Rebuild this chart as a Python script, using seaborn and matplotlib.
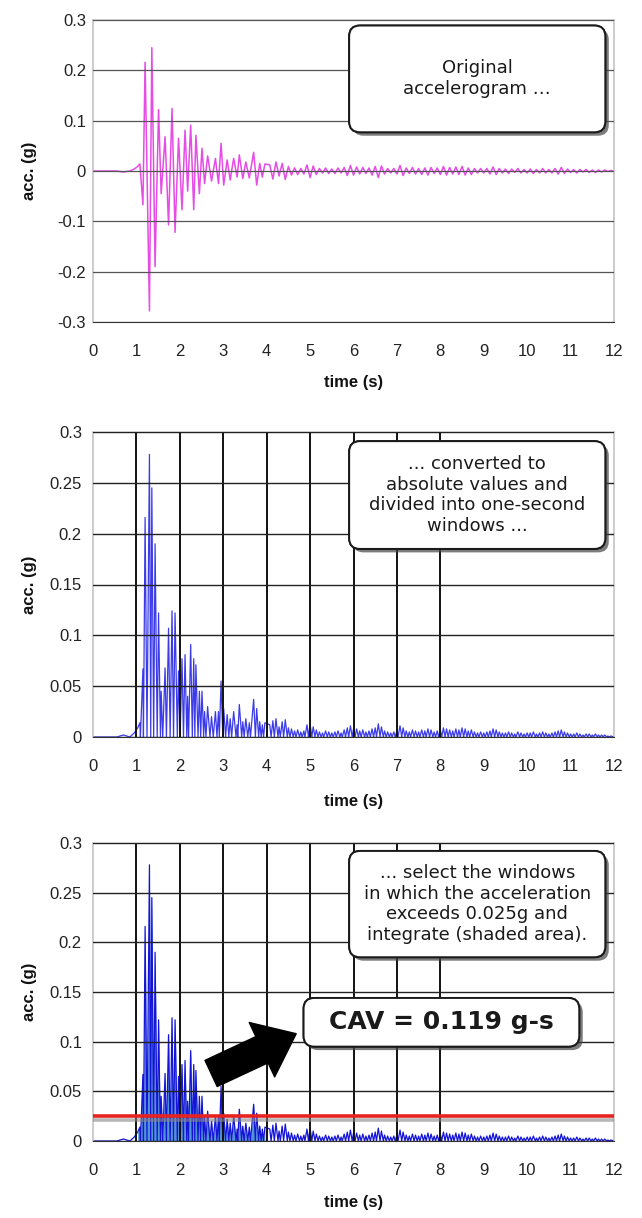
import numpy as np
import pandas as pd
import matplotlib
matplotlib.use("Agg")
import matplotlib.pyplot as plt
import matplotlib.patheffects as pe
from matplotlib.patches import FancyBboxPatch
import seaborn as sns

# accelerogram: half-cycle peaks (s, g)
pre_t = [0.0, 0.55, 0.70, 0.85, 0.95, 1.03]
pre_g = [0.0, 0.0, -0.002, 0.0, 0.004, 0.009]

strong_t = [1.08, 1.15, 1.20, 1.30, 1.355, 1.43, 1.51, 1.57, 1.66, 1.74,
            1.82, 1.89, 1.97, 2.05, 2.12, 2.18, 2.25, 2.32, 2.37, 2.45,
            2.51, 2.57, 2.64, 2.73, 2.82, 2.89, 2.95, 3.01, 3.09, 3.16,
            3.24, 3.32, 3.37, 3.45, 3.52, 3.60, 3.70, 3.77, 3.84, 3.90, 3.96]
strong_g = [0.014, -0.067, 0.216, -0.278, 0.245, -0.190, 0.122, -0.045, 0.068, -0.107,
            0.124, -0.122, 0.065, -0.077, 0.081, -0.040, 0.091, -0.077, 0.071, -0.045,
            0.045, -0.025, 0.030, -0.020, 0.025, -0.025, 0.055, -0.028, 0.022, -0.018,
            0.025, -0.012, 0.032, -0.015, 0.018, -0.014, 0.037, -0.028, 0.015, -0.012, 0.014]

# coda, 14 half-cycles per second from 4 s to 12 s
tail_g = [
    0.012, -0.016, 0.018, -0.010, 0.015, -0.017, 0.009, -0.008, 0.006, -0.007, 0.005, -0.006, 0.012, -0.013,
    0.010, -0.007, 0.005, -0.004, 0.006, -0.005, 0.004, -0.005, 0.006, -0.004, 0.007, -0.009, 0.011, -0.008,
    0.008, -0.006, 0.007, -0.005, 0.006, -0.008, 0.009, -0.013, 0.010, -0.006, 0.005, -0.004, 0.005, -0.006,
    0.011, -0.009, 0.006, -0.005, 0.007, -0.006, 0.005, -0.007, 0.006, -0.008, 0.007, -0.005, 0.006, -0.007,
    0.009, -0.008, 0.007, -0.006, 0.008, -0.007, 0.009, -0.008, 0.006, -0.007, 0.005, -0.004, 0.005, -0.004,
    0.005, -0.006, 0.008, -0.007, 0.005, -0.004, 0.004, -0.005, 0.004, -0.003, 0.005, -0.004, 0.003, -0.004,
    0.004, -0.005, 0.003, -0.004, 0.005, -0.004, 0.003, -0.004, 0.005, -0.006, 0.007, -0.005, 0.004, -0.003,
    0.003, -0.004, 0.003, -0.002, 0.003, -0.003, 0.002, -0.003, 0.002, -0.002, 0.002, -0.001, 0.001, 0.0,
]
tail_t = list(4.0 + np.arange(1, len(tail_g) + 1) / 14)

window_edges = [1, 2, 3, 4, 5, 6, 7, 8]
cav_windows = (1, 4)
threshold_g = 0.025
cav_value = 0.119

xticks = list(range(0, 13))
yticks_top = [-0.3, -0.2, -0.1, 0, 0.1, 0.2, 0.3]
ylabels_top = ["-0.3", "-0.2", "-0.1", "0", "0.1", "0.2", "0.3"]
yticks_abs = [0, 0.05, 0.1, 0.15, 0.2, 0.25, 0.3]
ylabels_abs = ["0", "0.05", "0.1", "0.15", "0.2", "0.25", "0.3"]

notes = ["Original\naccelerogram \u2026",
         "... converted to\nabsolute values and\ndivided into one-second\nwindows ...",
         "... select the windows\nin which the acceleration\nexceeds 0.025g and\nintegrate (shaded area)."]

t = np.array(pre_t + strong_t + tail_t)
g = np.array(pre_g + strong_g + tail_g)

# abs() of the drawn trace: keep the points where the line crosses zero
ts, gs = [t[0]], [g[0]]
for i in range(1, len(t)):
    if g[i - 1] * g[i] < 0:
        ts.append(t[i - 1] + (t[i] - t[i - 1]) * g[i - 1] / (g[i - 1] - g[i]))
        gs.append(0.0)
    ts.append(t[i])
    gs.append(g[i])
df = pd.DataFrame({"time": t, "acc": g})
df_abs = pd.DataFrame({"time": ts, "acc": np.abs(gs)})

sns.set_style("white")
plt.rcParams["font.family"] = ["Liberation Sans", "DejaVu Sans"]

W, H = 642, 1218
fig = plt.figure(figsize=(W / 100, H / 100), dpi=100)
L, R = 93, 614
panels = [(20, 322), (432, 737), (843, 1141)]
axes = [fig.add_axes([L / W, 1 - b / H, (R - L) / W, (b - tp) / H]) for tp, b in panels]


def style(ax, yt, yl, xlab_y, minor_y=None):
    ax.set_xlim(0, 12)
    ax.set_ylim(yt[0], yt[-1])
    ax.set_xticks(xticks)
    ax.set_xticks(np.arange(0, 12.01, 0.1), minor=True)
    ax.set_xticklabels([str(x) for x in xticks])
    ax.set_yticks(yt)
    ax.set_yticklabels(yl)
    if minor_y is not None:
        ax.set_yticks(minor_y, minor=True)
    ax.set_axisbelow(False)
    ax.tick_params(axis="x", which="major", direction="inout", length=7, width=1,
                   color="#333333", pad=12, labelsize=12, labelcolor="#222222")
    ax.tick_params(axis="x", which="minor", direction="in", length=3.5, width=0.8, color="#333333")
    ax.tick_params(axis="y", which="major", direction="out", length=3, width=0.8, color="#aaaaaa",
                   pad=5, labelsize=12, labelcolor="#222222")
    ax.tick_params(axis="y", which="minor", direction="out", length=3, width=0.8, color="#aaaaaa")
    for side in ("top", "right", "left"):
        ax.spines[side].set_color("#c4c4c4")
        ax.spines[side].set_linewidth(1.2)
    ax.spines["bottom"].set_color("#333333")
    ax.set_xlabel("time (s)", fontsize=12, fontweight="bold", color="#111111")
    ax.set_ylabel("acc. (g)", fontsize=12, fontweight="bold", color="#111111")
    ax.xaxis.set_label_coords(0.5, xlab_y)
    ax.xaxis.label.set_va("center")
    ax.yaxis.set_label_coords(-0.108, 0.5)


def note(ax, x0, x1, y0, y1, text, size=13, weight="normal"):
    px = ax.transData.transform([(0, 0), (1, 1)])
    aspect = (px[1, 0] - px[0, 0]) / (px[1, 1] - px[0, 1])
    box = FancyBboxPatch((x0, y0), x1 - x0, y1 - y0,
                         boxstyle="round,pad=0,rounding_size=0.25", mutation_aspect=aspect,
                         fc="white", ec="#1a1a1a", lw=1.4, zorder=6,
                         path_effects=[pe.withSimplePatchShadow(offset=(2.5, -2.5), shadow_rgbFace="#444444", alpha=0.7),
                                       pe.Normal()])
    ax.add_patch(box)
    ax.text((x0 + x1) / 2, (y0 + y1) / 2, text, ha="center", va="center",
            fontsize=size, fontweight=weight, family=["DejaVu Sans"], color="#1a1a1a",
            linespacing=1.2, zorder=7)


# panel 1: original accelerogram
ax = axes[0]
sns.lineplot(data=df, x="time", y="acc", ax=ax, color="#e64ce6", lw=1.1,
             estimator=None, sort=False, zorder=2)
style(ax, yticks_top, ylabels_top, -0.2)
ax.tick_params(axis="y", which="major", length=0)
ax.grid(axis="y", color="#555555", lw=0.9)
note(ax, 5.9, 11.8, 0.077, 0.289, notes[0])

minor_abs = np.arange(0.025, 0.3, 0.05)

# panel 2: absolute values split into one-second windows
ax = axes[1]
sns.lineplot(data=df_abs, x="time", y="acc", ax=ax, color="#3b3bea", lw=0.9,
             estimator=None, sort=False, zorder=2)
style(ax, yticks_abs, ylabels_abs, -0.21, minor_abs)
ax.grid(axis="y", color="#222222", lw=1.0)
ax.vlines(window_edges, 0, 0.3, color="#111111", lw=1.4, zorder=2.5)
note(ax, 5.9, 11.8, 0.185, 0.291, notes[1])

# panel 3: windows over the threshold, shaded and integrated
ax = axes[2]
sel = (df_abs["time"] >= cav_windows[0]) & (df_abs["time"] <= cav_windows[1])
ax.fill_between(df_abs["time"][sel], df_abs["acc"][sel], color="#4f97d3", lw=0, zorder=1.8)
sns.lineplot(data=df_abs, x="time", y="acc", ax=ax, color="#1414d8", lw=0.9,
             estimator=None, sort=False, zorder=2)
style(ax, yticks_abs, ylabels_abs, -0.208, minor_abs)
ax.grid(axis="y", color="#222222", lw=1.0)
ax.vlines(window_edges, 0, 0.3, color="#111111", lw=1.4, zorder=2.5)
ax.axhline(threshold_g, color="#e8231f", lw=2.6, zorder=4,
           path_effects=[pe.SimpleLineShadow(offset=(0, -2.5), shadow_color="#888888", alpha=0.6), pe.Normal()])
note(ax, 5.9, 11.8, 0.185, 0.292, notes[2])
note(ax, 4.85, 11.2, 0.095, 0.144, f"CAV = {cav_value} g-s", size=18, weight="bold")
ax.annotate("", xy=(4.68, 0.108), xytext=(2.72, 0.068),
            arrowprops=dict(arrowstyle="simple,head_length=1.7,head_width=2.7,tail_width=1.3",
                            mutation_scale=16, fc="black", ec="black", shrinkA=0, shrinkB=0),
            zorder=5)

fig.savefig("out.png", dpi=100)
